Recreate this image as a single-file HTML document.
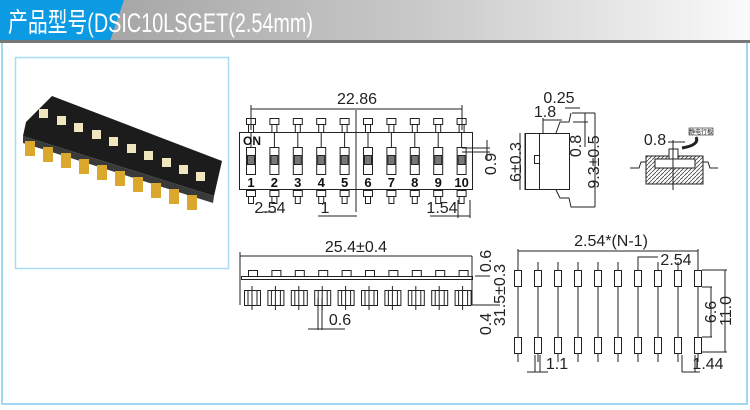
<!DOCTYPE html>
<html><head><meta charset="utf-8"><style>
body{margin:0;width:750px;height:405px;overflow:hidden;background:#fff;font-family:"Liberation Sans","Noto Sans CJK SC",sans-serif}
</style></head><body>
<svg width="750" height="405" xmlns="http://www.w3.org/2000/svg" font-family="Liberation Sans, Noto Sans CJK SC, sans-serif">
<defs>
<linearGradient id="g" x1="0" x2="1"><stop offset="0" stop-color="#9a9a9a"/><stop offset="0.55" stop-color="#c8c8c8"/><stop offset="1" stop-color="#fafafa"/></linearGradient>
<pattern id="h" width="4" height="4" patternUnits="userSpaceOnUse"><path d="M0,4 L4,0" stroke="#444" stroke-width="0.8"/></pattern>
</defs>
<rect x="0" y="0" width="750" height="405" fill="#fff"/>
<rect x="2" y="2" width="745" height="402" fill="none" stroke="#9fd8f2" stroke-width="2"/>
<rect x="0" y="0" width="750" height="41" fill="url(#g)"/>
<polygon points="0,0 124,0 110,41 0,41" fill="#0c9ae3"/>
<rect x="0" y="40" width="750" height="3" fill="#777"/>
<text x="8" y="32" font-size="27" fill="#fff" textLength="305" lengthAdjust="spacingAndGlyphs">产品型号(DSIC10LSGET(2.54mm)</text>
<!-- photo box -->
<rect x="15.5" y="57.5" width="213" height="211" fill="#fff" stroke="#a8dcf4" stroke-width="1.5"/>
<polygon points="52,96 222,161 214,196 23,136 26,122" fill="#1c1c1c"/>
<polygon points="23,136 214,196 213,203 23,143" fill="#3a3a3a"/>
<g fill="#efe6c0">
<rect x="39" y="109" width="9" height="9"/><rect x="57" y="116" width="9" height="9"/><rect x="74" y="123" width="9" height="9"/><rect x="92" y="130" width="9" height="9"/><rect x="109" y="137" width="9" height="9"/><rect x="127" y="144" width="9" height="9"/><rect x="144" y="151" width="9" height="9"/><rect x="162" y="158" width="9" height="9"/><rect x="179" y="165" width="9" height="9"/><rect x="196" y="172" width="9" height="9"/>
</g>
<g fill="#d9a82c">
<rect x="25" y="141" width="10" height="15"/><rect x="43" y="147" width="10" height="15"/><rect x="61" y="153" width="10" height="15"/><rect x="79" y="159" width="10" height="15"/><rect x="97" y="165" width="10" height="15"/><rect x="115" y="171" width="10" height="15"/><rect x="133" y="177" width="10" height="15"/><rect x="151" y="183" width="10" height="15"/><rect x="169" y="189" width="10" height="15"/><rect x="187" y="195" width="10" height="15"/>
</g>
<g stroke="#222" fill="none" stroke-width="1">
<!-- top view -->
<line x1="251" y1="109" x2="462" y2="109"/>
<line x1="251" y1="105" x2="251" y2="130"/><line x1="462" y1="105" x2="462" y2="130"/>
<rect x="239.5" y="132.5" width="233" height="57"/>
<line x1="356" y1="110" x2="356" y2="212"/>
<line x1="262" y1="212" x2="276" y2="212"/>
<line x1="318" y1="216" x2="357" y2="216"/>
<line x1="430" y1="216" x2="470" y2="216"/>
<line x1="470" y1="200" x2="470" y2="218"/><line x1="458" y1="200" x2="458" y2="218"/>
<line x1="462" y1="148" x2="490" y2="148"/><line x1="462" y1="152" x2="490" y2="152"/><line x1="487" y1="140" x2="487" y2="160"/>
<g id="p">
<rect x="246.5" y="118.5" width="9" height="6"/><rect x="248.5" y="124.5" width="5" height="8"/><line x1="251" y1="132" x2="251" y2="147"/>
<rect x="246.5" y="147.5" width="9" height="27"/><rect x="247.5" y="155.5" width="7" height="9" fill="#777"/>
<rect x="246.5" y="190.5" width="9" height="6"/><rect x="248.5" y="196.5" width="5" height="7"/>
</g>
<use href="#p" x="23.4"/><use href="#p" x="46.8"/><use href="#p" x="70.2"/><use href="#p" x="93.6"/><use href="#p" x="117"/><use href="#p" x="140.4"/><use href="#p" x="163.8"/><use href="#p" x="187.2"/><use href="#p" x="210.6"/>
</g>
<g font-size="16" fill="#222" text-anchor="middle">
<text x="357" y="104">22.86</text>
<text x="270" y="213">2.54</text>
<text x="325" y="213">1</text>
<text x="442" y="213">1.54</text>
<text x="496" y="164" transform="rotate(-90 496 164)">0.9</text>
</g>
<g font-size="13" font-weight="bold" fill="#111" text-anchor="middle">
<text x="252" y="145" font-size="12">ON</text>
<text x="251" y="187">1</text><text x="274.4" y="187">2</text><text x="297.8" y="187">3</text><text x="321.2" y="187">4</text><text x="344.6" y="187">5</text><text x="368" y="187">6</text><text x="391.4" y="187">7</text><text x="414.8" y="187">8</text><text x="438.2" y="187">9</text><text x="461.6" y="187">10</text>
</g>
<!-- side view -->
<g stroke="#222" fill="none" stroke-width="1">
<rect x="525.5" y="133.5" width="14" height="56"/>
<rect x="539.5" y="133.5" width="30" height="56"/>
<rect x="534.5" y="155.5" width="5" height="8"/>
<path d="M556,133 L560,122 L569,122 L571,113"/>
<path d="M556,190 L560,198 L569,198 L571,207 L595,207"/>
<line x1="543" y1="118" x2="543" y2="133"/><line x1="543" y1="120" x2="562" y2="120"/>
<line x1="565" y1="108" x2="580" y2="108"/><line x1="572" y1="113" x2="595" y2="113"/>
<line x1="585" y1="113" x2="585" y2="147"/><line x1="595" y1="113" x2="595" y2="207"/>
<line x1="573" y1="122" x2="588" y2="122"/>
<line x1="525" y1="133" x2="525" y2="190"/><line x1="520" y1="133" x2="520" y2="190"/>
<path d="M630,168 L639,168 L641,162 L646,162 L646,184 L703,184 L703,162 L708,162 L710,168 L718,168" />
<rect x="646" y="156" width="57" height="28" fill="url(#h)"/>
<rect x="655" y="159" width="40" height="9" fill="#fff"/>
<rect x="669" y="149" width="9" height="10" fill="#fff"/>
<line x1="673" y1="140" x2="673" y2="190"/>
<line x1="668" y1="142" x2="685" y2="142"/>
<path d="M696,137 Q700,145 682,148" stroke-width="3"/>
</g>
<rect x="689" y="128" width="24" height="7" fill="#fff" stroke="#222" stroke-width="0.6"/>
<text x="701" y="134" font-size="6" text-anchor="middle" fill="#222">静电行板</text>
<g font-size="16" fill="#222" text-anchor="middle">
<text x="559" y="103">0.25</text>
<text x="545" y="117">1.8</text>
<text x="521" y="162" transform="rotate(-90 521 162)">6±0.3</text>
<text x="581" y="146" transform="rotate(-90 581 146)">0.8</text>
<text x="599" y="162" transform="rotate(-90 599 162)">9.3±0.5</text>
<text x="655" y="145">0.8</text>
</g>
<!-- bottom-left view -->
<g stroke="#222" fill="none" stroke-width="1">
<line x1="240" y1="256" x2="472" y2="256"/>
<line x1="240" y1="252" x2="240" y2="305"/>
<rect x="241.5" y="276.5" width="231" height="3"/>
<line x1="472" y1="256" x2="472" y2="305"/>
<line x1="472" y1="305" x2="500" y2="305"/>
<line x1="475" y1="276" x2="490" y2="276"/>
<line x1="318" y1="298" x2="318" y2="330"/><line x1="322" y1="298" x2="322" y2="330"/><line x1="308" y1="329" x2="345" y2="329"/>
<g id="b">
<rect x="248.5" y="270.5" width="9" height="6"/>
<rect x="244.5" y="290.5" width="16" height="15"/><line x1="248" y1="290" x2="248" y2="306"/><line x1="257" y1="290" x2="257" y2="306"/><line x1="252" y1="286" x2="252" y2="310"/>
</g>
<use href="#b" x="23.4"/><use href="#b" x="46.8"/><use href="#b" x="70.2"/><use href="#b" x="93.6"/><use href="#b" x="117"/><use href="#b" x="140.4"/><use href="#b" x="163.8"/><use href="#b" x="187.2"/><use href="#b" x="210.6"/>
</g>
<g font-size="16" fill="#222" text-anchor="middle">
<text x="356" y="252">25.4±0.4</text>
<text x="340" y="325">0.6</text>
<text x="491" y="261" transform="rotate(-90 491 261)">0.6</text>
<text x="491" y="324" transform="rotate(-90 491 324)">0.4</text>
<text x="505" y="295" transform="rotate(-90 505 295)">31.5±0.3</text>
</g>
<!-- bottom-right view -->
<g stroke="#222" fill="none" stroke-width="1">
<line x1="518" y1="251" x2="698" y2="251"/>
<line x1="518" y1="249" x2="518" y2="270"/><line x1="698" y1="249" x2="698" y2="270"/>
<path d="M638,268 L638,257 L658,257"/>
<line x1="702" y1="270" x2="727" y2="270"/><line x1="702" y1="287" x2="712" y2="287"/><line x1="702" y1="337" x2="712" y2="337"/><line x1="702" y1="352" x2="727" y2="352"/>
<line x1="711" y1="287" x2="711" y2="337"/><line x1="725" y1="270" x2="725" y2="352"/>
<line x1="535" y1="355" x2="535" y2="372"/><line x1="540" y1="355" x2="540" y2="372"/><line x1="527" y1="372" x2="548" y2="372"/>
<line x1="682" y1="355" x2="682" y2="372"/><line x1="682" y1="372" x2="700" y2="372"/><line x1="695" y1="355" x2="695" y2="372"/>
<g id="r">
<line x1="518" y1="262" x2="518" y2="362"/>
<rect x="514.5" y="270.5" width="7" height="16" fill="#fff"/>
<rect x="514.5" y="337.5" width="7" height="16" fill="#fff"/>
</g>
<use href="#r" x="20"/><use href="#r" x="40"/><use href="#r" x="60"/><use href="#r" x="80"/><use href="#r" x="100"/><use href="#r" x="120"/><use href="#r" x="140"/><use href="#r" x="160"/><use href="#r" x="180"/>
</g>
<g font-size="16" fill="#222" text-anchor="middle">
<text x="611" y="246">2.54*(N-1)</text>
<text x="676" y="265">2.54</text>
<text x="557" y="369">1.1</text>
<text x="708" y="369">1.44</text>
<text x="716" y="312" transform="rotate(-90 716 312)">6.6</text>
<text x="731" y="311" transform="rotate(-90 731 311)">11.0</text>
</g>
</svg>
</body></html>
